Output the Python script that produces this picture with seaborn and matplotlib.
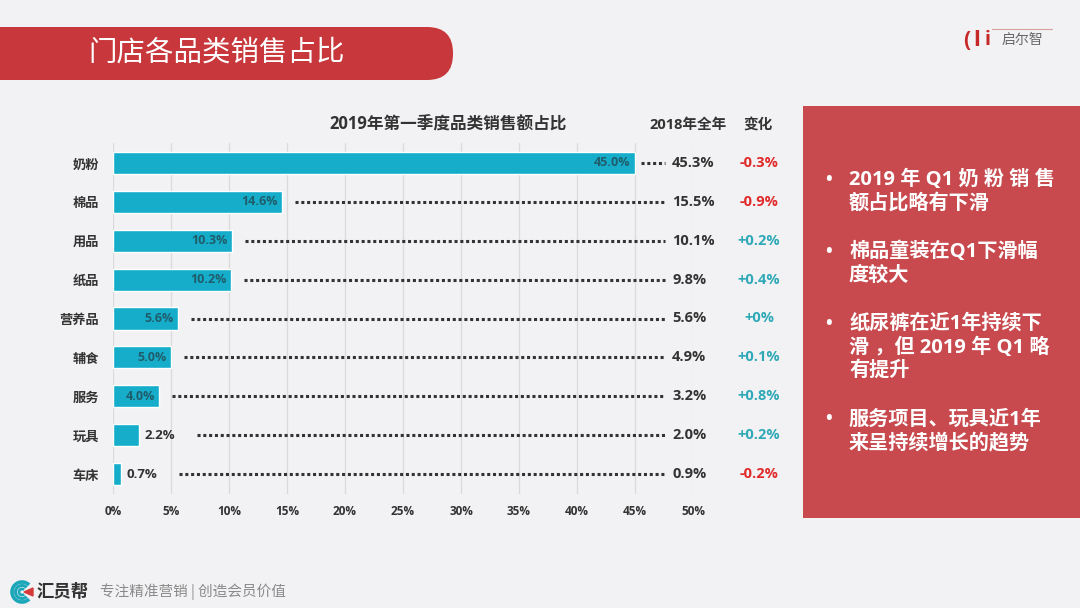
import matplotlib
matplotlib.use('Agg')
import matplotlib.pyplot as plt
import seaborn as sns
import pandas as pd
from matplotlib.patches import FancyBboxPatch, Rectangle, Arc, Polygon

# ---------------- data ----------------
categories = ['奶粉', '棉品', '用品', '纸品', '营养品', '辅食', '服务', '玩具', '车床']
share_2019q1 = [45.0, 14.6, 10.3, 10.2, 5.6, 5.0, 4.0, 2.2, 0.7]
share_2018 = [45.3, 15.5, 10.1, 9.8, 5.6, 4.9, 3.2, 2.0, 0.9]
change_labels = ['-0.3%', '-0.9%', '+0.2%', '+0.4%', '+0%', '+0.1%', '+0.8%', '+0.2%', '-0.2%']
x_ticks = [0, 5, 10, 15, 20, 25, 30, 35, 40, 45, 50]
x_tick_labels = [f'{t}%' for t in x_ticks]

chart_title = '2019年第一季度品类销售额占比'
col_2018 = '2018年全年'
col_change = '变化'
page_title = '门店各品类销售占比'
panel_lines = [
    ['2019 年 Q1 奶 粉 销 售', '额占比略有下滑'],
    ['棉品童装在Q1下滑幅', '度较大'],
    ['纸尿裤在近1年持续下', '滑 ，但 2019 年 Q1 略', '有提升'],
    ['服务项目、玩具近1年', '来呈持续增长的趋势'],
]

# ---------------- style ----------------
sns.set_style('white')
plt.rcParams['font.family'] = ['Open Sans', 'Noto Sans CJK SC', 'DejaVu Sans']
CJK = ['Noto Sans CJK SC', 'DejaVu Sans']

BG = '#F2F2F4'
BAR = '#16ADCB'
DARK = '#333333'
RED = '#E02A2A'
TEAL = '#2FA9B7'

fig = plt.figure(figsize=(10.8, 6.08), dpi=100, facecolor=BG)

# background / decoration layer in pixel coordinates
bg = fig.add_axes([0, 0, 1, 1])
bg.set_xlim(0, 1080)
bg.set_ylim(608, 0)
bg.axis('off')

bg.add_patch(FancyBboxPatch((-40, 27), 493, 53,
                            boxstyle='round,pad=0,rounding_size=26',
                            facecolor='#C7373B', edgecolor='none'))
bg.text(88, 53, page_title, color='white', fontsize=20.5, va='center', ha='left',
        family=CJK, fontweight='light')

# right panel
bg.add_patch(Rectangle((803, 106), 277, 412, facecolor='#C84A4E', edgecolor='none'))
y = 180
for group in panel_lines:
    bg.text(828, y, '•', color='white', fontsize=13, va='center', ha='center',
            fontweight='bold')
    for line in group:
        bg.text(849, y, line, color='white', fontsize=14.5, va='center', ha='left',
                fontweight='bold')
        y += 23.5
    y += 25

# logo top right
bg.text(963, 40, '(', color='#C62828', fontsize=15, fontweight='bold', va='center')
bg.text(973, 40, 'l', color='#C62828', fontsize=16, fontweight='bold', va='center')
bg.text(985, 40, 'i', color='#C62828', fontsize=14, fontweight='bold', va='center')
bg.plot([992, 1052], [29, 29], color='#D9A0A0', lw=0.8)
bg.text(1002, 40, '启尔智', color='#666666', fontsize=10, va='center', ha='left', family=CJK)

# footer
for r, lw in [(10, 2.6), (6.5, 2.2), (3, 2.0)]:
    bg.add_patch(Arc((22, 592), 2 * r, 2 * r, theta1=45, theta2=315, lw=lw, color='#1BA6B9'))
bg.add_patch(Polygon([[24, 592], [33, 588], [33, 596]], closed=True, color='#D63B3B'))
bg.text(37, 592, '汇员帮', color=DARK, fontsize=12.5, fontweight='bold', va='center', family=CJK)
bg.text(100, 592, '专注精准营销 | 创造会员价值', color='#8A8A8A', fontsize=10.5, va='center',
        family=CJK)

# ---------------- chart ----------------
ax = fig.add_axes([113 / 1080, 1 - 493.5 / 608, 580 / 1080, 350 / 608])
ax.patch.set_alpha(0)

df = pd.DataFrame({'category': categories, 'share': share_2019q1})
sns.barplot(data=df, x='share', y='category', color=BAR, saturation=1,
            width=0.57, ax=ax, zorder=3)

ax.set_xlim(0, 50)
ax.set_ylim(len(categories) - 0.5, -0.5)
ax.set_xticks(x_ticks)
ax.set_xticklabels(x_tick_labels, fontsize=8.5, color=DARK, fontweight='bold')
ax.set_yticks(range(len(categories)))
ax.set_yticklabels(categories, fontsize=9.5, color=DARK, fontweight='bold', family=CJK)
ax.tick_params(axis='x', length=0, pad=8)
ax.tick_params(axis='y', length=0, pad=10)
ax.set_xlabel('')
ax.set_ylabel('')
for s in ax.spines.values():
    s.set_visible(False)
ax.grid(axis='x', color='#DADADA', lw=0.9)
ax.grid(axis='y', visible=False)
ax.set_axisbelow(True)

for i, (v, v18, ch) in enumerate(zip(share_2019q1, share_2018, change_labels)):
    if v >= 4:
        ax.text(v - 0.4, i, f'{v:.1f}%', ha='right', va='center', fontsize=9,
                color='#1F5D6B', fontweight='bold', zorder=4)
        start = v + 1.1
    else:
        ax.text(v + 0.5, i, f'{v:.1f}%', ha='left', va='center', fontsize=9.5,
                color=DARK, fontweight='bold', zorder=4)
        start = v + 5.0
    if v > 40:
        start = v + 0.5
    ax.hlines(i, start, 47.6, colors=DARK, linestyles=(0, (1, 0.9)), lw=2.2, zorder=4)
    ax.text(48.2, i, f'{v18:.1f}%', ha='left', va='center', fontsize=10.5,
            color=DARK, fontweight='bold', clip_on=False, zorder=4)
    ax.text(55.7, i, ch, ha='center', va='center', fontsize=10.5,
            color=RED if ch.startswith('-') else TEAL, fontweight='bold',
            clip_on=False, zorder=4)

ax.text(28.9, -0.98, chart_title, ha='center', va='center', fontsize=12,
        color=DARK, fontweight='bold', clip_on=False)
ax.text(49.6, -0.98, col_2018, ha='center', va='center', fontsize=10.5,
        color=DARK, fontweight='bold', clip_on=False)
ax.text(55.6, -0.98, col_change, ha='center', va='center', fontsize=10.5,
        color=DARK, fontweight='bold', clip_on=False)

fig.savefig('out.png', dpi=100, facecolor=BG)
